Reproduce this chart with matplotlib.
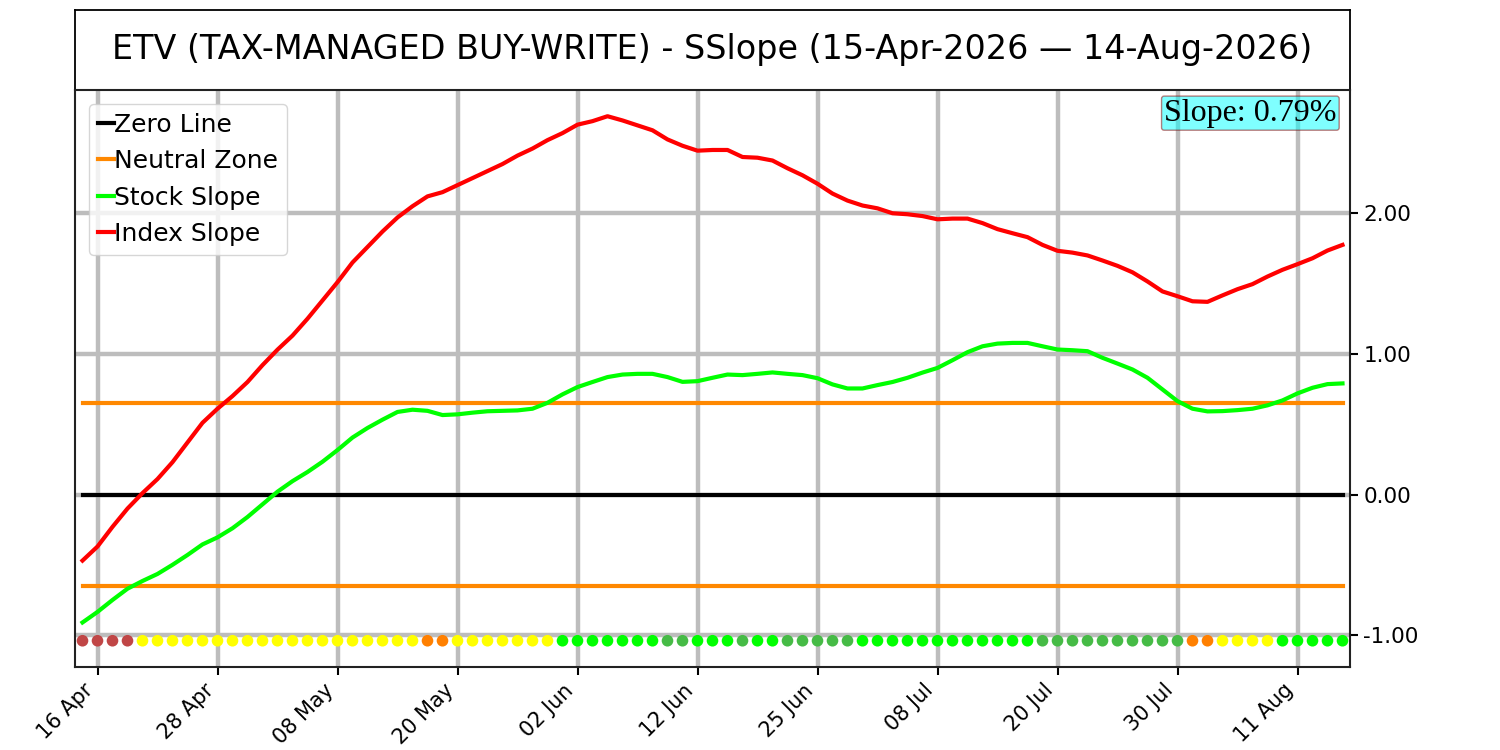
import matplotlib
matplotlib.use("Agg")
import matplotlib.pyplot as plt
import numpy as np
from matplotlib.ticker import FormatStrFormatter

title = "ETV (TAX-MANAGED BUY-WRITE) - SSlope (15-Apr-2026 \u2014 14-Aug-2026)"

# index slope (red) and stock slope (green), one value per trading day
index_slope = [-0.47, -0.37, -0.23, -0.10, 0.01, 0.11, 0.23, 0.37, 0.51, 0.61,
               0.70, 0.80, 0.92, 1.03, 1.13, 1.25, 1.38, 1.51, 1.65, 1.76,
               1.87, 1.97, 2.05, 2.12, 2.15, 2.20, 2.25, 2.30, 2.35, 2.41,
               2.46, 2.52, 2.57, 2.63, 2.655, 2.69, 2.66, 2.625, 2.59, 2.525,
               2.48, 2.445, 2.45, 2.45, 2.40, 2.395, 2.375, 2.32, 2.27, 2.21,
               2.14, 2.09, 2.055, 2.035, 2.00, 1.993, 1.98, 1.957, 1.962, 1.962,
               1.93, 1.887, 1.858, 1.83, 1.775, 1.733, 1.72, 1.70, 1.664, 1.626,
               1.58, 1.515, 1.444, 1.41, 1.374, 1.37, 1.416, 1.46, 1.496, 1.55,
               1.598, 1.638, 1.68, 1.735, 1.775]

stock_slope = [-0.91, -0.835, -0.75, -0.67, -0.615, -0.565, -0.50, -0.43, -0.355, -0.305,
               -0.24, -0.16, -0.07, 0.02, 0.095, 0.16, 0.233, 0.316, 0.405, 0.473,
               0.532, 0.587, 0.603, 0.595, 0.565, 0.57, 0.582, 0.592, 0.595, 0.598,
               0.61, 0.652, 0.712, 0.764, 0.80, 0.835, 0.853, 0.858, 0.858, 0.835,
               0.801, 0.806, 0.83, 0.853, 0.849, 0.858, 0.868, 0.858, 0.849, 0.827,
               0.783, 0.754, 0.754, 0.778, 0.80, 0.83, 0.867, 0.90, 0.955, 1.012,
               1.054, 1.073, 1.078, 1.078, 1.054, 1.031, 1.026, 1.019, 0.972, 0.931,
               0.889, 0.83, 0.747, 0.664, 0.61, 0.591, 0.593, 0.60, 0.61, 0.634,
               0.669, 0.719, 0.759, 0.785, 0.79]

# daily status dots along the bottom
status = (["r"] * 4 + ["y"] * 19 + ["o"] * 2 + ["y"] * 7 + ["g"] * 7 + ["d"] * 2 +
          ["g"] * 3 + ["d"] + ["g"] * 2 + ["d"] * 5 + ["g"] * 12 + ["d"] * 10 +
          ["o"] * 2 + ["y"] * 4 + ["g"] * 5)
status_colors = {"r": "#c04646", "y": "#ffff00", "o": "#ff8000",
                 "g": "#00ff00", "d": "#46bb46"}
status_level = -1.04

neutral = 0.65
tick_labels = ["16 Apr", "28 Apr", "08 May", "20 May", "02 Jun", "12 Jun",
               "25 Jun", "08 Jul", "20 Jul", "30 Jul", "11 Aug"]
slope_text = "Slope: 0.79%"

n = len(index_slope)
x = np.arange(n)

fig = plt.figure(figsize=(15, 7.5), dpi=100)
tax = fig.add_axes([0.05, 0.88, 0.85, 0.1067])
ax = fig.add_axes([0.05, 0.1107, 0.85, 0.7693])

# title box
tax.set_xticks([])
tax.set_yticks([])
for sp in tax.spines.values():
    sp.set_linewidth(1.3)
tax.text(0.5, 0.5, title, ha="center", va="center", fontsize=24, transform=tax.transAxes)

ax.set_axisbelow(True)
ax.grid(True, color="#bdbdbd", linewidth=3.2)

ax.plot(x, np.zeros(n), color="black", linewidth=3, label="Zero Line")
ax.plot(x, np.full(n, neutral), color="#ff8800", linewidth=3, label="Neutral Zone")
ax.plot(x, np.full(n, -neutral), color="#ff8800", linewidth=3)
ax.plot(x, stock_slope, color="#00ff00", linewidth=3, label="Stock Slope")
ax.plot(x, index_slope, color="#ff0000", linewidth=3, label="Index Slope")

ax.scatter(x, np.full(n, status_level), c=[status_colors[s] for s in status],
           s=70, zorder=3, linewidths=0)

ax.set_xlim(-0.5, n - 0.5)
ax.set_xticks(range(1, n, 8))
ax.set_xticklabels(tick_labels, rotation=45, ha="right", fontsize=15)

ax.yaxis.tick_right()
ax.set_yticks([-1, 0, 1, 2])
ax.yaxis.set_major_formatter(FormatStrFormatter("%.2f"))
ax.tick_params(axis="y", labelsize=15.5, length=6, width=1.5)
ax.tick_params(axis="x", length=6, width=1.5)
for sp in ax.spines.values():
    sp.set_linewidth(1.5)
    sp.set_color("#222222")

leg = ax.legend(loc="upper left", fontsize=18, handlelength=0.65, handletextpad=0.0,
                borderaxespad=0.55, labelspacing=0.5, borderpad=0.35)
for line in leg.get_lines():
    line.set_linewidth(3)

ax.text(0.9895, 0.985, slope_text, transform=ax.transAxes, ha="right", va="top",
        fontsize=23, family="Liberation Serif",
        bbox=dict(boxstyle="round,pad=0.08", facecolor="cyan", alpha=0.5, edgecolor="darkred"))

fig.savefig("out.png", dpi=100)
